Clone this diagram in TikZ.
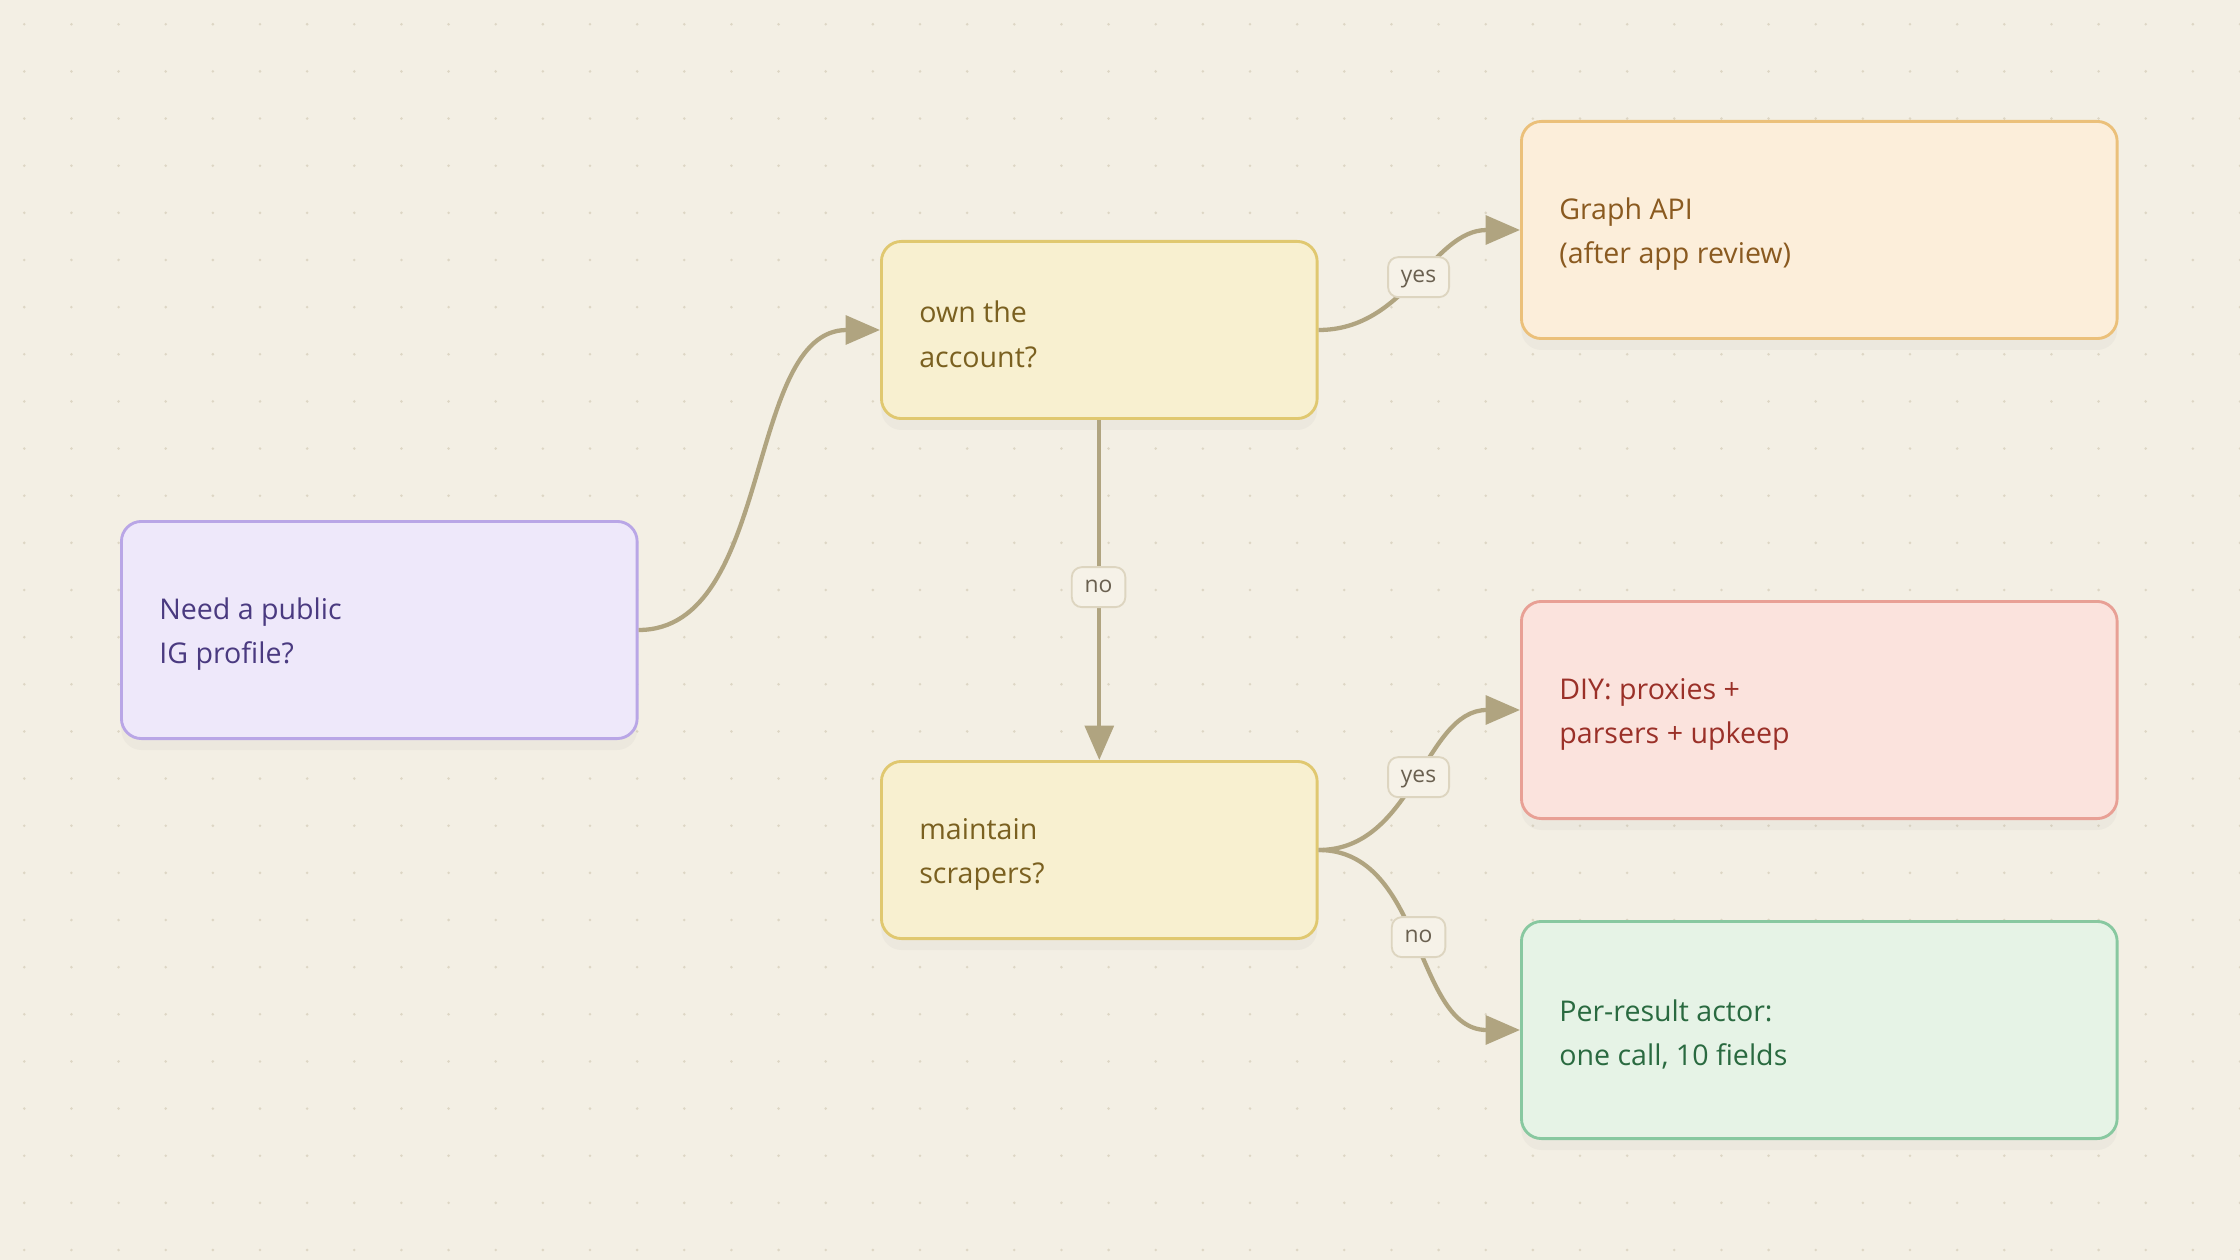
\documentclass[tikz,border=0pt]{standalone}
\usepackage{fontspec}
\setmainfont{Open Sans}
\usetikzlibrary{arrows.meta,shadows}
\definecolor{bg}{HTML}{F3EFE4}
\definecolor{dot}{HTML}{DDD6C4}
\definecolor{edge}{HTML}{B0A480}
\definecolor{lblb}{HTML}{DDD5C0}\definecolor{lblf}{HTML}{F6F2E8}\definecolor{lblt}{HTML}{6A6050}
\definecolor{sb}{HTML}{B9A6E6}\definecolor{sf}{HTML}{EEE8FA}\definecolor{st}{HTML}{4A3A80}
\definecolor{qb}{HTML}{E0C870}\definecolor{qf}{HTML}{F8F0D0}\definecolor{qt}{HTML}{7A6020}
\definecolor{gb}{HTML}{EBC07A}\definecolor{gf}{HTML}{FCEEDA}\definecolor{gt}{HTML}{8A5A20}
\definecolor{db}{HTML}{E8A095}\definecolor{df}{HTML}{FBE3DD}\definecolor{dt}{HTML}{9A3028}
\definecolor{ab}{HTML}{88C8A0}\definecolor{af}{HTML}{E6F3E6}\definecolor{at}{HTML}{2A6A40}
\begin{document}
\begin{tikzpicture}[x=1pt,y=-1pt,
 box/.style={draw, line width=2pt, rounded corners=14pt, minimum width=#1, minimum height=152, inner sep=0pt, drop shadow={opacity=0.06, shadow xshift=0pt, shadow yshift=-8pt}},
 txt/.style={align=left, font=\fontsize{20}{31}\selectfont, anchor=west},
 elab/.style={draw=lblb, fill=lblf, line width=1.3pt, rounded corners=7pt, inner xsep=9pt, inner ysep=7pt, text=lblt, font=\fontsize{16}{16}\selectfont, text height=11pt, text depth=3pt},
 ed/.style={draw=edge, line width=3pt, -{Triangle[length=24pt,width=20pt]}}]
\fill[bg] (0,0) rectangle (1568,882);
\useasboundingbox (0,0) rectangle (1568,882);
\foreach \i in {0,...,47}{\foreach \j in {0,...,26}{\fill[dot] (17+33*\i,17+33*\j) circle (1pt);}}
\node[box=361, draw=sb, fill=sf] (s) at (265.5,441) {};
\node[box=305, minimum height=124, draw=qb, fill=qf] (q1) at (769.5,231) {};
\node[box=305, minimum height=124, draw=qb, fill=qf] (q2) at (769.5,595) {};
\node[box=417, draw=gb, fill=gf] (g) at (1273.5,161) {};
\node[box=417, draw=db, fill=df] (d) at (1273.5,497) {};
\node[box=417, draw=ab, fill=af] (a) at (1273.5,721) {};
\node[txt, text=st] (ts) at (108,444) {Need a public\\IG profile?};
\node[txt, text=qt] (tq1) at (640,234) {own the\\account?};
\node[txt, text=qt] (tq2) at (640,598) {maintain\\scrapers?};
\node[txt, text=gt] (tg) at (1088,164) {Graph API\\(after app review)};
\node[txt, text=dt] (td) at (1088,500) {DIY: proxies +\\parsers + upkeep};
\node[txt, text=at] (ta) at (1088,724) {Per-result actor:\\one call, 10 fields};
\draw[ed] (s.east) to[out=0,in=180,looseness=0.9] (q1.west);
\draw[ed] (q1.east) to[out=0,in=180] (g.west);
\draw[ed] (q1.south) -- (q2.north);
\draw[ed] (q2.east) to[out=0,in=180] (d.west);
\draw[ed] (q2.east) to[out=0,in=180] (a.west);
\node[elab] (l1) at (993,194) {yes};
\node[elab] (l2) at (769,411) {no};
\node[elab] (l3) at (993,544) {yes};
\node[elab] (l4) at (993,656) {no};
\end{tikzpicture}
\end{document}
